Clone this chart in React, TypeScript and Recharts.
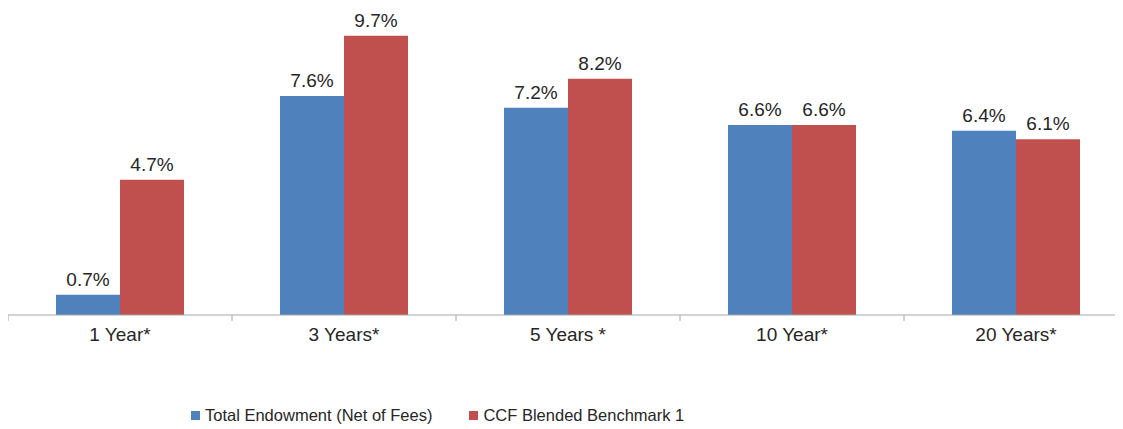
import React from 'react';
import { BarChart, Bar, XAxis, YAxis, Legend, LabelList } from 'recharts';

const periods = ['1 Year*', '3 Years*', '5 Years *', '10 Year*', '20 Years*'];
const endowment = [0.7, 7.6, 7.2, 6.6, 6.4];
const benchmark = [4.7, 9.7, 8.2, 6.6, 6.1];
const seriesNames = ['Total Endowment (Net of Fees)', 'CCF Blended Benchmark 1'];
const seriesColors = ['#4F81BD', '#C0504D'];

const data = periods.map((period, i) => ({
  period,
  endowment: endowment[i],
  benchmark: benchmark[i],
}));

const FONT = '"Liberation Sans", Arial, sans-serif';
const TEXT = '#262626';
const AXIS = '#a6a6a6';

// category label plus Excel-style tick marks on the band edges
const PeriodTick = (props: any) => {
  const { x, y, payload, index, width, visibleTicksCount } = props;
  const band = width / visibleTicksCount;
  const axisY = y - 13;
  const last = index === visibleTicksCount - 1;
  return (
    <g>
      <line x1={x - band / 2} x2={x - band / 2} y1={axisY} y2={axisY + 6} stroke={AXIS} />
      {last && <line x1={x + band / 2} x2={x + band / 2} y1={axisY} y2={axisY + 6} stroke={AXIS} />}
      <text x={x} y={y} dy="0.71em" textAnchor="middle" fill={TEXT} fontSize={19} fontFamily={FONT}>
        {payload.value}
      </text>
    </g>
  );
};

const LegendRow = () => (
  <div style={{ display: 'flex', alignItems: 'center', height: 20, paddingLeft: 183, fontFamily: FONT, fontSize: 16.5, color: TEXT }}>
    {seriesNames.map((name, i) => (
      <div key={name} style={{ display: 'flex', alignItems: 'center', marginRight: 37 }}>
        <span style={{ width: 9, height: 9, background: seriesColors[i], marginRight: 5 }} />
        <span>{name}</span>
      </div>
    ))}
  </div>
);

const fmt = (v: any) => `${Number(v).toFixed(1)}%`;

export default function App() {
  return (
    <div style={{ width: 1120, height: 421 }}>
      <BarChart
        width={1120}
        height={421}
        data={data}
        margin={{ top: 19, right: 0, bottom: 4, left: 0 }}
        barCategoryGap={48}
        barGap={0}
      >
        <XAxis
          dataKey="period"
          axisLine={{ stroke: AXIS }}
          tickLine={false}
          tickSize={0}
          tickMargin={13}
          height={90}
          interval={0}
          tick={<PeriodTick />}
        />
        <YAxis hide domain={[0, 10]} />
        <Legend verticalAlign="bottom" content={<LegendRow />} />
        <Bar dataKey="endowment" name={seriesNames[0]} fill={seriesColors[0]} isAnimationActive={false}>
          <LabelList dataKey="endowment" position="top" offset={9} formatter={fmt} fill={TEXT} fontSize={19} fontFamily={FONT} />
        </Bar>
        <Bar dataKey="benchmark" name={seriesNames[1]} fill={seriesColors[1]} isAnimationActive={false}>
          <LabelList dataKey="benchmark" position="top" offset={9} formatter={fmt} fill={TEXT} fontSize={19} fontFamily={FONT} />
        </Bar>
      </BarChart>
    </div>
  );
}
